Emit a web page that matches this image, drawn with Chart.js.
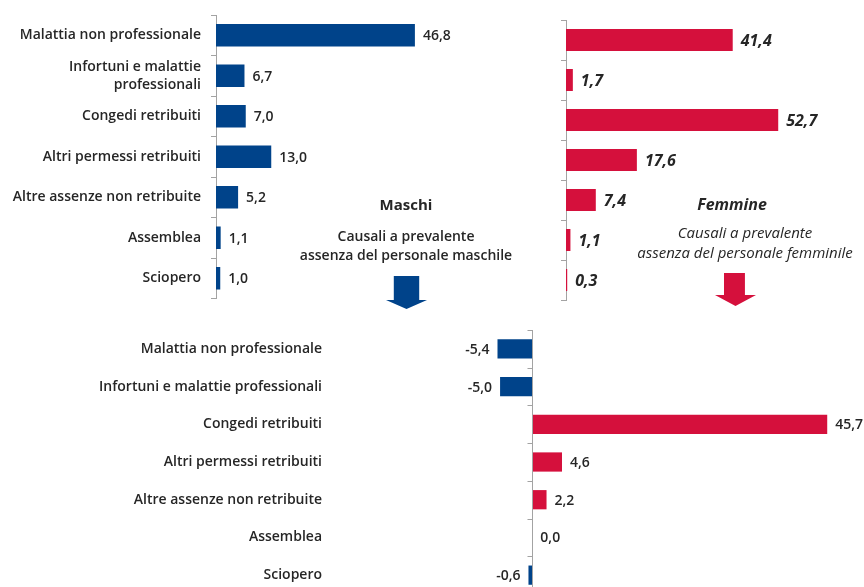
<!DOCTYPE html>
<html lang="it">
<head>
<meta charset="utf-8">
<script src="https://cdn.jsdelivr.net/npm/chart.js@4.4.1/dist/chart.umd.min.js"></script>
<style>
  html, body { margin: 0; padding: 0; background: #ffffff; }
  body { width: 864px; height: 587px; overflow: hidden; position: relative; font-family: "Open Sans", sans-serif; }
  canvas { position: absolute; display: block; }
  .note { position: absolute; text-align: center; color: #262626; white-space: nowrap; }
  .arrow { position: absolute; }
</style>
</head>
<body>
<canvas id="maschi" width="471" height="310" style="left:0;top:0"></canvas>
<canvas id="femmine" width="324" height="310" style="left:540px;top:0"></canvas>
<canvas id="diff" width="864" height="280" style="left:0;top:320px"></canvas>

<div class="note" style="left:306px;top:194px;width:200px;font-size:15px;font-weight:700;">Maschi</div>
<div class="note" style="left:256px;top:226px;width:300px;font-size:14px;font-weight:600;line-height:19px;">Causali a prevalente<br>assenza del personale maschile</div>
<div class="arrow" style="left:386px;top:276px;width:41px;height:33px;background:#00438a;clip-path:polygon(19% 0,81% 0,81% 73%,100% 73%,50% 100%,0 73%,19% 73%);"></div>

<div class="note" style="left:632px;top:193px;width:200px;font-size:16px;font-weight:700;font-style:italic;">Femmine</div>
<div class="note" style="left:595px;top:222px;width:300px;font-size:15px;font-style:italic;line-height:20px;">Causali a prevalente<br>assenza del personale femminile</div>
<div class="arrow" style="left:715px;top:273px;width:41px;height:33px;background:#d5103c;clip-path:polygon(22% 0,73% 0,73% 67%,100% 67%,50% 100%,0 67%,22% 67%);"></div>

<script>
// Categories (top charts wrap the long label on two lines)
const categoriesTop = ['Malattia non professionale', ['Infortuni e malattie', 'professionali'], 'Congedi retribuiti',
  'Altri permessi retribuiti', 'Altre assenze non retribuite', 'Assemblea', 'Sciopero'];
const categoriesBottom = ['Malattia non professionale', 'Infortuni e malattie professionali', 'Congedi retribuiti',
  'Altri permessi retribuiti', 'Altre assenze non retribuite', 'Assemblea', 'Sciopero'];

// Percentage values per cause
const maschi = [46.8, 6.7, 7.0, 13.0, 5.2, 1.1, 1.0];
const femmine = [41.4, 1.7, 52.7, 17.6, 7.4, 1.1, 0.3];
const differenza = [-5.4, -5.0, 45.7, 4.6, 2.2, 0.0, -0.6];

const BLUE = '#00438a';
const RED = '#d5103c';
const AXIS = '#a3a3a3';
const TEXT = '#262626';
const LABEL_FONT = { family: 'Open Sans', size: 14, weight: '600', lineHeight: 1.3 };

// Writes the value next to the end of each bar (Italian decimal comma)
const valueLabels = {
  id: 'valueLabels',
  afterDatasetsDraw(chart, args, opts) {
    const ctx = chart.ctx;
    const meta = chart.getDatasetMeta(0);
    const data = chart.data.datasets[0].data;
    ctx.save();
    ctx.font = opts.font;
    ctx.fillStyle = opts.color;
    ctx.textBaseline = 'middle';
    meta.data.forEach((bar, i) => {
      const v = data[i];
      const txt = v.toFixed(1).replace('.', ',');
      if (v < 0) {
        ctx.textAlign = 'right';
        ctx.fillText(txt, bar.x - opts.offset, bar.y + 1);
      } else {
        ctx.textAlign = 'left';
        ctx.fillText(txt, bar.x + opts.offset, bar.y + 1);
      }
    });
    ctx.restore();
  }
};

// Vertical axis line at x = 0 with tick marks between categories
const zeroAxis = {
  id: 'zeroAxis',
  afterDatasetsDraw(chart, args, opts) {
    const ctx = chart.ctx;
    const xs = chart.scales.x;
    const ys = chart.scales.y;
    const x0 = Math.round(xs.getPixelForValue(0)) + 0.5;
    const n = ys.getLabels().length;
    const band = (ys.bottom - ys.top) / n;
    ctx.save();
    ctx.strokeStyle = opts.color;
    ctx.lineWidth = 1;
    ctx.beginPath();
    ctx.moveTo(x0, ys.top);
    ctx.lineTo(x0, ys.bottom);
    for (let k = 0; k <= n; k++) {
      const y = Math.round(ys.top + k * band) + 0.5;
      ctx.moveTo(x0 - opts.tickLength, y);
      ctx.lineTo(x0, y);
    }
    ctx.stroke();
    ctx.restore();
  }
};

// Fixed-width category axis; label padding must not eat vertical space
function fixWidth(width) {
  return function (scale) {
    scale.width = width;
    scale.paddingTop = 0;
    scale.paddingBottom = 0;
  };
}

function categoryAxis(labels, width, showLabels, pad) {
  return {
    type: 'category',
    labels: labels,
    offset: true,
    afterFit: fixWidth(width),
    border: { display: true, color: AXIS, width: 1 },
    grid: { display: true, offset: true, drawOnChartArea: false, drawTicks: true, tickLength: 5, color: AXIS },
    ticks: { display: showLabels, padding: pad, color: TEXT, font: LABEL_FONT }
  };
}

// Maschi
new Chart(document.getElementById('maschi'), {
  type: 'bar',
  data: {
    labels: categoriesTop,
    datasets: [{ data: maschi, backgroundColor: BLUE, barPercentage: 0.55, categoryPercentage: 1 }]
  },
  options: {
    indexAxis: 'y',
    responsive: false,
    animation: false,
    layout: { padding: { top: 15, bottom: 11.5, left: 0, right: 0 } },
    scales: {
      x: { display: false, min: 0, max: 60 },
      y: categoryAxis(categoriesTop, 216, true, 10)
    },
    plugins: {
      legend: { display: false },
      tooltip: { enabled: false },
      valueLabels: { font: '600 14px "Open Sans"', color: TEXT, offset: 8 }
    }
  },
  plugins: [valueLabels]
});

// Femmine
new Chart(document.getElementById('femmine'), {
  type: 'bar',
  data: {
    labels: categoriesTop,
    datasets: [{ data: femmine, backgroundColor: RED, barPercentage: 0.55, categoryPercentage: 1 }]
  },
  options: {
    indexAxis: 'y',
    responsive: false,
    animation: false,
    layout: { padding: { top: 20, bottom: 10, left: 0, right: 0 } },
    scales: {
      x: { display: false, min: 0, max: 74 },
      y: categoryAxis(categoriesTop, 26, false, 0)
    },
    plugins: {
      legend: { display: false },
      tooltip: { enabled: false },
      valueLabels: { font: 'italic 700 16px "Open Sans"', color: TEXT, offset: 8 }
    }
  },
  plugins: [valueLabels]
});

// Differenza femmine - maschi
new Chart(document.getElementById('diff'), {
  type: 'bar',
  data: {
    labels: categoriesBottom,
    datasets: [{
      data: differenza,
      backgroundColor: differenza.map(v => v < 0 ? BLUE : RED),
      barPercentage: 0.51,
      categoryPercentage: 1
    }]
  },
  options: {
    indexAxis: 'y',
    responsive: false,
    animation: false,
    layout: { padding: { top: 10, bottom: 6, left: 0, right: 0 } },
    scales: {
      x: { display: false, min: -14, max: 51.4 },
      y: {
        type: 'category',
        labels: categoriesBottom,
        offset: true,
        afterFit: fixWidth(442),
        border: { display: false },
        grid: { display: false, offset: true },
        ticks: { padding: 112, color: TEXT, font: LABEL_FONT }
      }
    },
    plugins: {
      legend: { display: false },
      tooltip: { enabled: false },
      valueLabels: { font: '600 14px "Open Sans"', color: TEXT, offset: 8 },
      zeroAxis: { color: AXIS, tickLength: 5 }
    }
  },
  plugins: [valueLabels, zeroAxis]
});
</script>
</body>
</html>
